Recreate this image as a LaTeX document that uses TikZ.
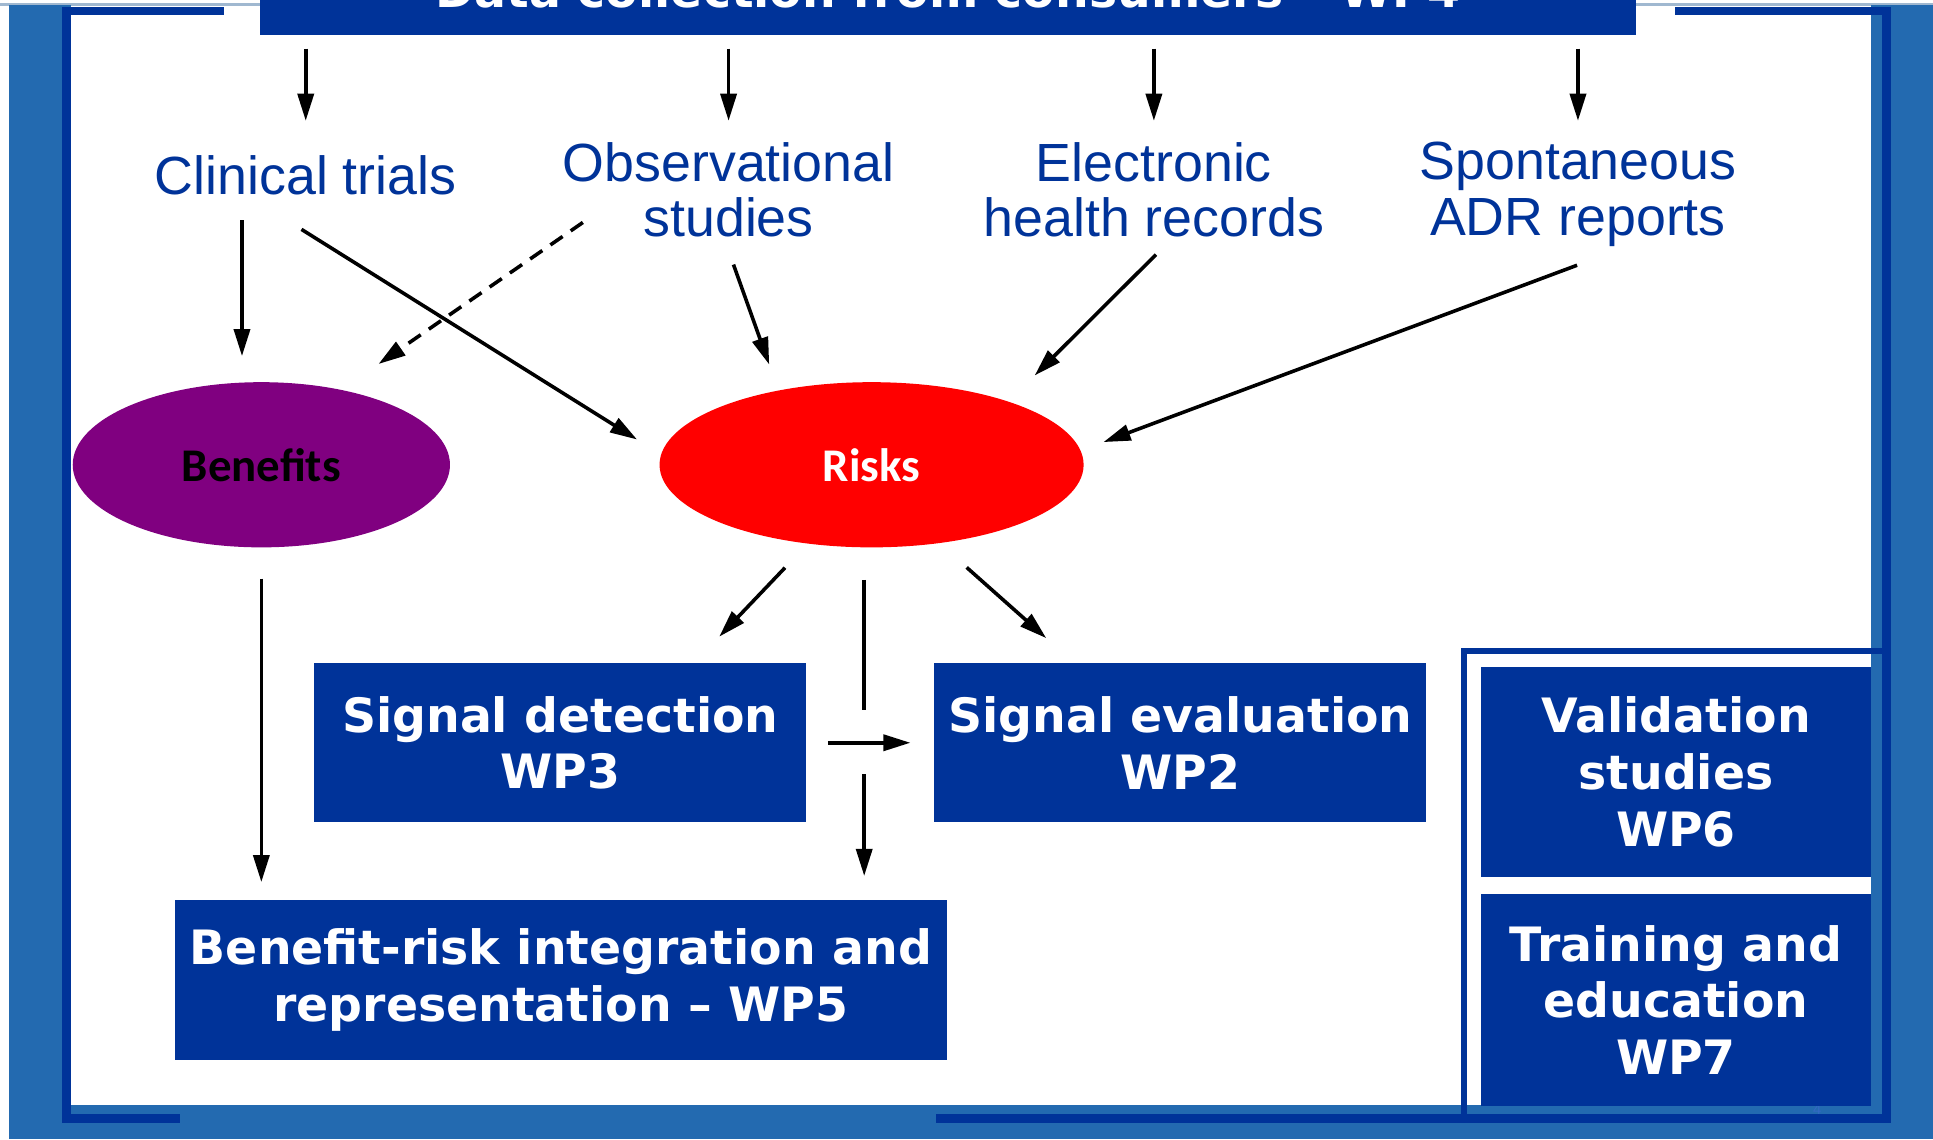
\documentclass[tikz,border=0pt]{standalone}
\usepackage{fontspec}
\usetikzlibrary{arrows.meta,shapes.geometric}

\newfontfamily\labfont{Liberation Sans}
\newfontfamily\wpfont{DejaVu Sans}
\newfontfamily\ovalfont{Carlito}

\definecolor{wpblue}{RGB}{0,51,153}
\definecolor{bandblue}{RGB}{35,106,176}
\definecolor{edgegray}{RGB}{160,184,208}
\definecolor{pageblue}{RGB}{52,104,196}
\definecolor{benpurple}{RGB}{128,0,128}

\tikzset{
  >={Triangle[length=22pt,width=13pt]},
  lab/.style={font=\labfont\fontsize{43.6pt}{45pt}\selectfont,text=wpblue,align=center,inner sep=0pt,anchor=north},
  wpbox/.style={fill=wpblue,text=white,font=\wpfont\bfseries\fontsize{38.4pt}{46pt}\selectfont,align=center,inner sep=0pt},
  oval/.style={ellipse,inner sep=0pt,minimum height=134pt,font=\ovalfont\bfseries\fontsize{38pt}{40pt}\selectfont},
}

\begin{document}
\begin{tikzpicture}[x=1pt,y=-1pt,line width=2.9pt]
  \useasboundingbox (0,0) rectangle (1568,924);
  \clip (0,0) rectangle (1568,924);

  % slide frame
  \fill[white] (0,0) rectangle (1568,924);
  \fill[edgegray] (0,2.5) rectangle (1568,4.5);
  \fill[bandblue] (7,4) rectangle (57.5,924);
  \fill[bandblue] (1518,4) rectangle (1568,924);
  \fill[bandblue] (7,896) rectangle (1568,924);
  \fill[wpblue] (50,6) rectangle (57.5,911);
  \fill[wpblue] (50,6) rectangle (182,12.5);
  \fill[wpblue] (1359,6) rectangle (1534,12.5);
  \fill[wpblue] (1527,6) rectangle (1534,911);
  \fill[wpblue] (50,904) rectangle (146,911);
  \fill[wpblue] (759,904) rectangle (1534,911);
  \draw[wpblue,line width=5pt] (1187.5,528) rectangle (1530.5,908);
  \node[font=\labfont\fontsize{12pt}{12pt}\selectfont,text=pageblue] (pg) at (1474,900) {4};

  \node[wpbox,minimum width=1116pt,minimum height=72pt] (t1) at (769,-8) {Data collection from consumers – WP4};

    \node[lab] (s1) at (248,124.8) {Clinical trials};
    \node[lab] (s2) at (591,113.8) {Observational\\studies};
    \node[lab] (s3) at (936,113.8) {Electronic\\health records};
    \node[lab] (s4) at (1280,113.8) {Spontaneous\\ADR reports};

  \draw[->,shorten <=10pt,shorten >=26.8pt] (t1.south -| s1.north) to (s1.north);
  \draw[->,shorten <=10pt,shorten >=15.8pt] (t1.south -| s2.north) to (s2.north);
  \draw[->,shorten <=10pt,shorten >=15.8pt] (t1.south -| s3.north) to (s3.north);
  \draw[->,shorten <=10pt,shorten >=15.8pt] (t1.south -| s4.north) to (s4.north);

    \node[oval,fill=benpurple,minimum width=306pt] (e1) at (212,377) {Benefits};
    \node[oval,fill=red,text=white,minimum width=344pt] (e2) at (707,377) {Risks};

  \draw[->,shorten <=19pt,shorten >=20pt] (e1.103 |- s1.south) to (e1.103);
  \draw[->,shorten <=49.6pt,shorten >=21.6pt] (s1.201.7) to (e2.177);
  \draw[->,dash pattern=on 12pt off 8pt,shorten <=-21.6pt,shorten >=35pt] (s2.196.9) to (e1.43);
  \draw[->,shorten <=22.2pt,shorten >=21pt] (s2.-95) to (e2.141.3);
  \draw[->,shorten <=18.2pt,shorten >=28.6pt] (s3.-70) to (e2.25.1);
  \draw[->,shorten <=39.9pt,shorten >=18.5pt] (s4.-50) to (e2.4.6);

  \node[wpbox,minimum width=399pt,minimum height=129pt] (w3) at (454.5,602.5) {Signal detection\\WP3};
  \node[wpbox,minimum width=399pt,minimum height=129pt] (w2) at (957.5,602.5) {Signal evaluation\\WP2};
  \node[wpbox,minimum width=626pt,minimum height=130pt] (w5) at (455,795) {Benefit-risk integration and\\representation – WP5};
  \node[wpbox,minimum width=317pt,minimum height=170pt] (w6) at (1359.5,626) {Validation\\studies\\WP6};
  \node[wpbox,minimum width=317pt,minimum height=172pt] (w7) at (1359.5,811) {Training and\\education\\WP7};

  \draw[->,shorten <=25.3pt,shorten >=27.8pt] (e2.-129.4) to (w3.31.3);
  \draw[->,shorten <=27.9pt,shorten >=28.5pt] (e2.-49) to (w2.143.2);
  \draw[->,shorten <=16pt,shorten >=18pt] (w3.east) to (w2.east -| w2.west);

  % risks to WP5, broken where it crosses
  \coordinate (c1) at (e2.-95 |- w3.east);
  \draw[shorten <=25pt,shorten >=26.5pt] (e2.-95) to (c1);
  \draw[->,shorten <=25.5pt,shorten >=18pt] (c1) to (c1 |- w5.north);

  \draw[->,shorten <=24pt,shorten >=13pt] (e1.south) to (e1.south |- w5.north);

\end{tikzpicture}
\end{document}
